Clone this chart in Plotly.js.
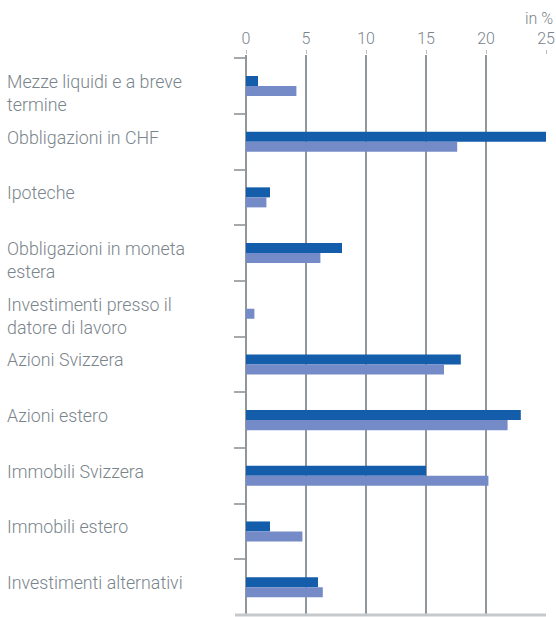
<!DOCTYPE html>
<html>
<head>
<meta charset="utf-8">
<script src="https://cdn.plot.ly/plotly-3.0.1.min.js"></script>
<style>
  html, body { margin: 0; padding: 0; background: #fff; }
  #chart { width: 556px; height: 617px; }
</style>
</head>
<body>
<div id="chart"></div>
<script>
// categorie e valori (in %)
const categorie = [
  'Mezze liquidi e a breve<br>termine',
  'Obbligazioni in CHF',
  'Ipoteche',
  'Obbligazioni in moneta<br>estera',
  'Investimenti presso il<br>datore di lavoro',
  'Azioni Svizzera',
  'Azioni estero',
  'Immobili Svizzera',
  'Immobili estero',
  'Investimenti alternativi'
];
const serieScura = [1.0, 25.0, 2.0, 8.0, 0, 17.9, 22.9, 15.0, 2.0, 6.0];
const serieChiara = [4.2, 17.6, 1.7, 6.2, 0.7, 16.5, 21.8, 20.2, 4.7, 6.4];
const tickVals = [0, 5, 10, 15, 20, 25];

const grigio = '#7a848b';
const font = {family: 'Roboto, sans-serif', size: 16, color: grigio, weight: 300};
const fontEtichette = {family: 'Roboto, sans-serif', size: 17.8, color: grigio, weight: 300};

const traces = [
  {
    type: 'bar', orientation: 'h',
    y: categorie, x: serieScura,
    marker: {color: '#135dab'},
    hoverinfo: 'x'
  },
  {
    type: 'bar', orientation: 'h',
    y: categorie, x: serieChiara,
    marker: {color: '#748bc7'},
    hoverinfo: 'x'
  }
];

// etichette a sinistra, allineate a sinistra
const etichette = categorie.map(c => ({
  text: c, xref: 'paper', yref: 'y',
  x: -241 / 300, y: c,
  xanchor: 'left', yanchor: 'top', align: 'left',
  yshift: 17, showarrow: false,
  font: fontEtichette
}));

etichette.push({
  text: 'in %', xref: 'paper', yref: 'paper',
  x: 1.03, y: 1 + 37 / 560, xanchor: 'right', yanchor: 'middle',
  showarrow: false, font: font
});

const layout = {
  width: 556, height: 617,
  margin: {l: 246, r: 10, t: 55, b: 2},
  paper_bgcolor: '#fff', plot_bgcolor: '#fff',
  showlegend: false,
  barmode: 'group',
  bargap: 0.64,
  bargroupgap: 0,
  font: font,
  xaxis: {
    side: 'top', range: [0, 25], fixedrange: true,
    tickvals: tickVals,
    showgrid: true, gridcolor: '#8f979c', gridwidth: 1.5,
    zeroline: true, zerolinecolor: '#8f979c', zerolinewidth: 2,
    ticks: 'outside', ticklen: 4, tickcolor: '#b9bec2', tickwidth: 1,
    showline: false,
    tickfont: font
  },
  yaxis: {
    type: 'category', autorange: 'reversed', fixedrange: true,
    showticklabels: false,
    showgrid: false, zeroline: false, showline: false,
    ticks: 'outside', tickson: 'boundaries', ticklen: 11,
    tickcolor: '#a3a9ad', tickwidth: 2
  },
  shapes: [
    {type: 'line', xref: 'paper', yref: 'paper', x0: -11 / 300, x1: 1, y0: 0, y1: 0,
     line: {color: '#c5c9cc', width: 3}}
  ],
  annotations: etichette
};

Plotly.newPlot('chart', traces, layout, {displayModeBar: false, staticPlot: true});
</script>
</body>
</html>
